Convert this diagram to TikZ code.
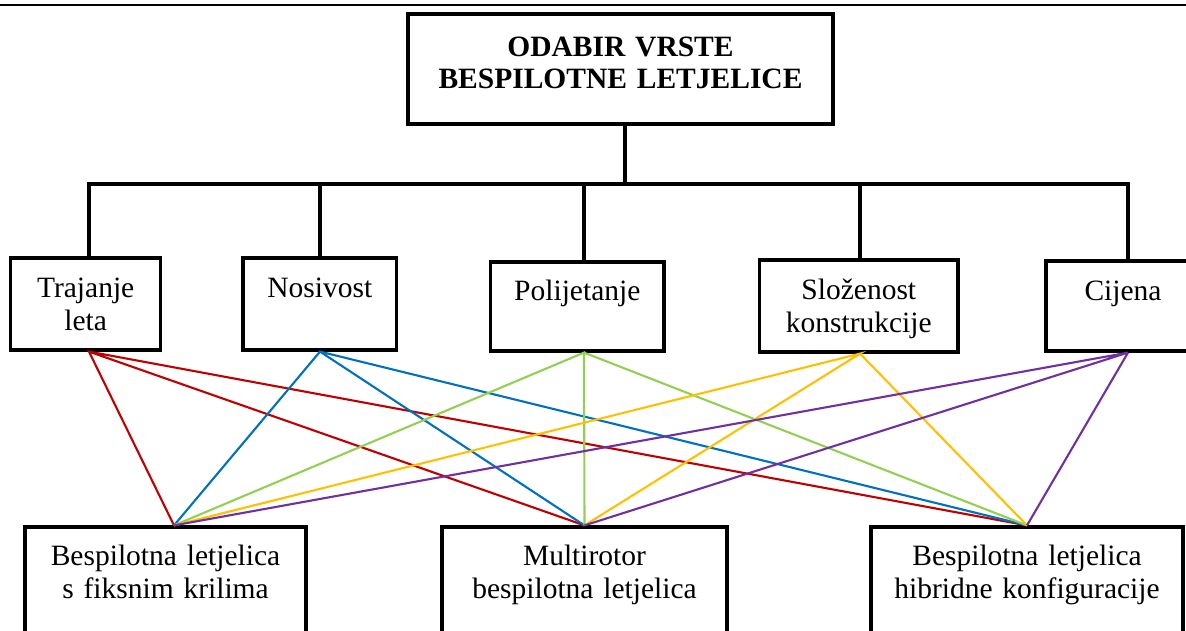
\documentclass[tikz,border=0pt]{standalone}
\usepackage{fontspec}
\setmainfont{Liberation Serif}

\definecolor{crvena}{RGB}{192,0,0}
\definecolor{plava}{RGB}{0,112,192}
\definecolor{zelena}{RGB}{146,208,80}
\definecolor{zuta}{RGB}{255,192,0}
\definecolor{ljubicasta}{RGB}{112,48,160}

\newcommand{\tekst}{\fontsize{29.5}{33.5}\selectfont}
\newcommand{\naslov}{\bfseries\fontsize{29.5}{32.5}\selectfont}

\tikzset{
	okvir/.style n args={3}{draw, line width=3.2pt, inner sep=0pt, anchor=base, align=center, font=\tekst, text width=#1pt, text height=#2pt, text depth=#3pt},
	stablo/.style={line width=3.2pt},
	veza/.style={line width=2.1pt},
}

\begin{document}
\begin{tikzpicture}[x=1pt,y=1pt,yscale=-1,xscale=1]
	\path[use as bounding box, clip] (0,0) rectangle (1186,630);
	\draw[line width=2pt] (0,5) -- (1186,5);

	\node[okvir={425}{42}{68}, font=\naslov] (odabir) at (620.5,56) {ODABIR VRSTE\\BESPILOTNE LETJELICE};

	\node[okvir={150}{39}{53}] (trajanje) at (85.7,297) {Trajanje\\leta};
	\node[okvir={153.5}{39}{53}] (nosivost) at (319.8,297) {Nosivost};
	\node[okvir={173.4}{38}{51}] (polijetanje) at (577.3,300) {Polijetanje};
	\node[okvir={198.5}{39}{53}] (slozenost) at (858.8,299) {Složenost\\konstrukcije};
	\node[okvir={154}{39}{51}] (cijena) at (1123,300) {Cijena};

	\node[okvir={281}{38}{95}] (fiksno) at (165.5,565) {Bespilotna letjelica\\s fiksnim krilima};
	\node[okvir={285}{38}{95}] (multi) at (584.5,565) {Multirotor\\bespilotna letjelica};
	\node[okvir={312}{38}{95}] (hibrid) at (1027,565) {Bespilotna letjelica\\hibridne konfiguracije};

	\coordinate (sabir) at (625,184);
	\coordinate (k1) at (89,184);
	\coordinate (k2) at (320,184);
	\coordinate (k3) at (584,184);
	\coordinate (k4) at (860,184);
	\coordinate (k5) at (1128,184);
	\coordinate (f1) at ([xshift=8.5pt]fiksno.north);

	\draw[stablo] (odabir.south -| sabir) -- (sabir);
	\draw[stablo, line cap=rect] (k1) -- (k5);
	\foreach \k/\n in {k1/trajanje, k2/nosivost, k3/polijetanje, k4/slozenost, k5/cijena}
		\draw[stablo] (\k) -- (\n.north -| \k);

	\foreach \k/\n/\c in {k1/trajanje/crvena, k2/nosivost/plava, k3/polijetanje/zelena, k4/slozenost/zuta, k5/cijena/ljubicasta}
		\draw[veza, \c] (f1) -- (\n.south -| \k) -- (multi.north) (\n.south -| \k) -- (hibrid.north);
\end{tikzpicture}
\end{document}
